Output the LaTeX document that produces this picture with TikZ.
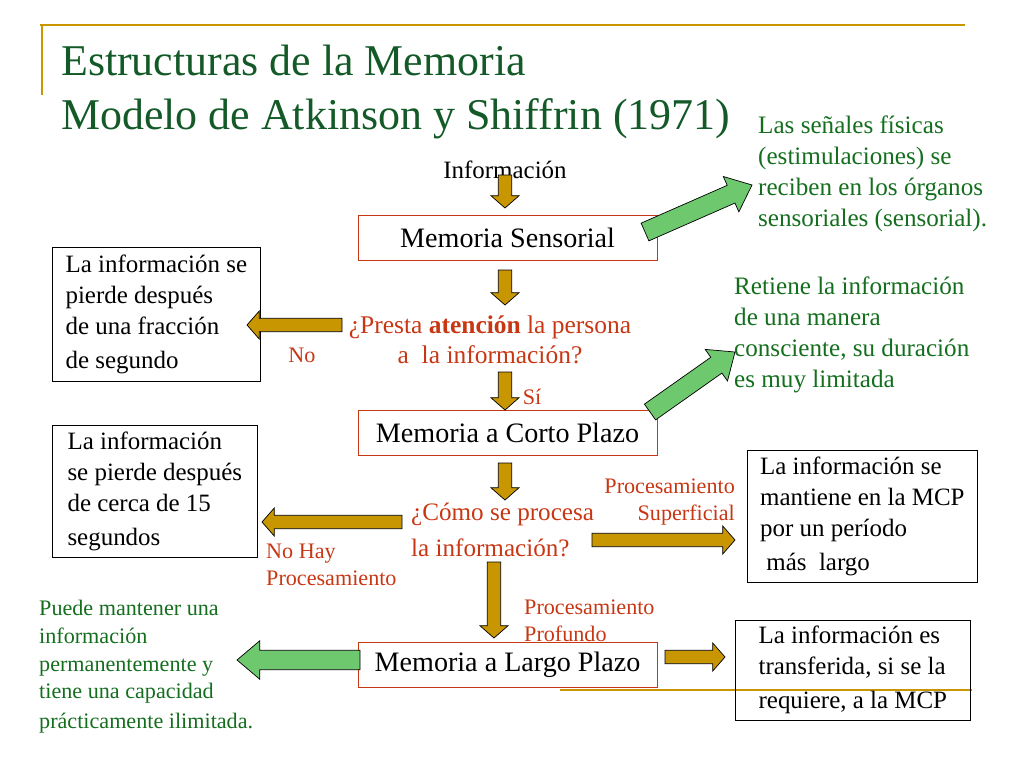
\documentclass[tikz,border=0pt]{standalone}
\usepackage{fontspec}
\setmainfont{Liberation Serif}
\usetikzlibrary{calc}
\definecolor{titlegreen}{RGB}{20,90,40}
\definecolor{txtgreen}{RGB}{20,110,30}
\definecolor{txtred}{RGB}{200,55,20}
\definecolor{gold}{RGB}{200,150,0}
\definecolor{lightgreen}{RGB}{110,200,110}
% block arrow: fill, start, end, half shaft, half head, head length
\newcommand\bigarrow[6]{%
  \draw[fill=#1, line join=miter] ($(#2)!#4!90:(#3)$) -- ($($(#3)!#6!(#2)$)!#4!-90:(#2)$)
    -- ($($(#3)!#6!(#2)$)!#5!-90:(#2)$) -- (#3) -- ($($(#3)!#6!(#2)$)!#5!90:(#2)$)
    -- ($($(#3)!#6!(#2)$)!#4!90:(#2)$) -- ($(#2)!#4!-90:(#3)$) -- cycle;}
\begin{document}
\begin{tikzpicture}[x=0.02cm, y=-0.02cm,
	mem/.style={draw=txtred, minimum width=5.98cm, minimum height=0.9cm, font=\fontsize{16}{18}\selectfont},
	infobox/.style={draw, align=left, anchor=north west, inner sep=3pt, font=\fontsize{14.2}{17.5}\selectfont},
	redtxt/.style={text=txtred, font=\fontsize{14.5}{17}\selectfont},
	smallred/.style={text=txtred, font=\fontsize{12.6}{15}\selectfont},
	greentxt/.style={text=txtgreen, align=left, anchor=north west, font=\fontsize{14.3}{17.6}\selectfont}]
	\useasboundingbox (0,0) rectangle (1024,768);
	% frame lines
	\draw[gold, line width=1.5pt] (40,25) -- (965,25) (42,25) -- (42,95) (560,690) -- (972,690);
	\node[anchor=west, text=titlegreen, align=left, font=\fontsize{25}{31}\selectfont] (title) at (55,92)
	{Estructuras de la Memoria\\Modelo de Atkinson y Shiffrin (1971)};
	% main column
	\node[font=\fontsize{14.2}{16}\selectfont] (info) at (505,170) {Información};
	\node[mem] (ms) at (507.5,237.5) {Memoria Sensorial};
	\node[redtxt, align=center] (q1) at (490,340) {¿Presta \textbf{atención} la persona\\a\ \ la información?};
	\node[mem] (mcp) at (507.5,432.5) {Memoria a Corto Plazo};
	\node[redtxt, align=left, anchor=west, font=\fontsize{14.3}{20}\selectfont] (q2) at (405,530) {¿Cómo se procesa\\la información?};
	\node[mem] (mlp) at (507.5,664.5) {Memoria a Largo Plazo};
	% side boxes
	\node[infobox, minimum width=4.16cm, minimum height=2.68cm] (lost1) at (52,247)
	{La información se\\pierde después\\de una fracción\\[2pt]de segundo};
	\node[infobox, minimum width=4.1cm, minimum height=2.64cm] (lost2) at (52,425)
	{La información\\se pierde después\\de cerca de 15\\[2pt]segundos};
	\node[infobox, minimum width=4.6cm, minimum height=2.64cm] (keep) at (747,450)
	{La información se\\mantiene en la MCP\\por un período\\[2pt]\ más\ \ largo};
	\node[infobox, minimum width=4.7cm, minimum height=2.0cm] (transf) at (735,620)
	{La información es\\transferida, si se la\\[2pt]requiere, a la MCP};
	% green notes
	\node[greentxt] (note1) at (752,110)
	{Las señales físicas\\(estimulaciones) se\\reciben en los órganos\\sensoriales (sensorial).};
	\node[greentxt] (note2) at (728,271)
	{Retiene la información\\de una manera\\consciente, su duración\\es muy limitada};
	\node[greentxt, font=\fontsize{12.6}{15.8}\selectfont] (note3) at (33,594)
	{Puede mantener una\\información\\permanentemente y\\tiene una capacidad\\[1pt]prácticamente ilimitada.};
	% labels
	\node[smallred] (no) at (302,355) {No};
	\node[smallred] (si) at (532,397) {Sí};
	\node[smallred, align=left, anchor=north west] (nohay) at (260,538) {No Hay\\Procesamiento};
	\node[smallred, align=right, anchor=north east] (sup) at (741,473) {Procesamiento\\Superficial};
	\node[smallred, align=left, anchor=north west] (prof) at (518,594) {Procesamiento\\Profundo};
	% arrow ends
	\path (505,175) coordinate (a1) (505,208) coordinate (b1)
	(505,270) coordinate (a2) (505,305) coordinate (b2)
	(342,325) coordinate (a3) (247,325) coordinate (b3)
	(505,372) coordinate (a4) (505,410) coordinate (b4)
	(505,463) coordinate (a5) (505,500) coordinate (b5)
	(402,522) coordinate (a6) (262,522) coordinate (b6)
	(592,540) coordinate (a7) (735,540) coordinate (b7)
	(494,562) coordinate (a8) (494,638) coordinate (b8)
	(665,657) coordinate (a9) (725,657) coordinate (b9)
	(645,232) coordinate (g1) (752,185) coordinate (h1)
	(650,412) coordinate (g2) (735,352) coordinate (h2)
	(360,660) coordinate (g3) (237,660) coordinate (h3);
	\foreach \s/\e in {a1/b1,a2/b2,a3/b3,a4/b4,a5/b5,a6/b6,a7/b7,a8/b8,a9/b9}{
		\bigarrow{gold}{\s}{\e}{3.8pt}{8pt}{7pt}
	}
	\foreach \s/\e in {g1/h1,g2/h2,g3/h3}{
		\bigarrow{lightgreen}{\s}{\e}{5.5pt}{11pt}{13pt}
	}
\end{tikzpicture}
\end{document}
